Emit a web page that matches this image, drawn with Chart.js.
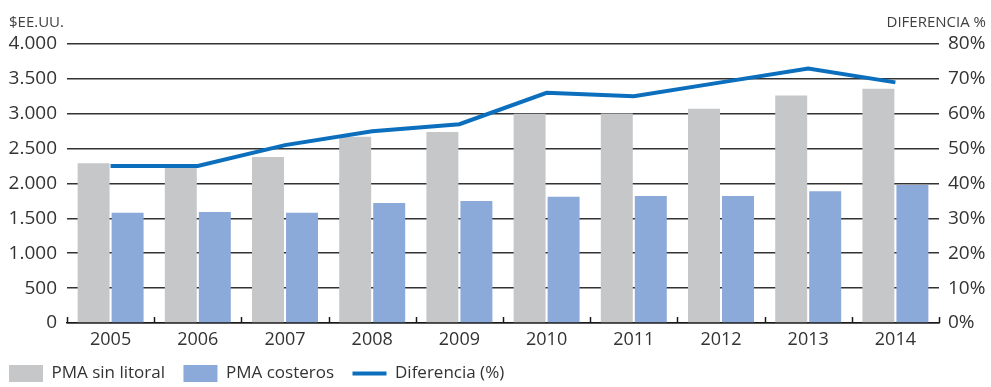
<!DOCTYPE html>
<html><head><meta charset="utf-8">
<script src="https://cdn.jsdelivr.net/npm/chart.js@4/dist/chart.umd.min.js"></script>
<style>html,body{margin:0;padding:0;background:#fff}#wrap{width:991px;height:387px;position:relative}</style>
</head><body><div id="wrap"><canvas id="c"></canvas></div>
<script>
const years = ['2005','2006','2007','2008','2009','2010','2011','2012','2013','2014'];
const pmaSinLitoral = [2290,2280,2380,2670,2740,3000,3005,3070,3260,3360];
const pmaCosteros = [1580,1590,1580,1720,1750,1810,1820,1820,1890,1980];
const diferencia = [45,45,51,55,57,66,65,69,73,69];
const leftAxisTitle = '$EE.UU.';
const rightAxisTitle = 'DIFERENCIA %';
const seriesNames = ['PMA sin litoral','PMA costeros','Diferencia (%)'];

const GRAY = '#c6c7c9', BLUE = '#8ba9d9', LINE = '#0b6fbd', TXT = '#333333';
const FONT = "'Open Sans', 'Noto Sans', sans-serif";
const LEG_PAD = 18.5, LEG_BOX_H = 18, LEG_TEXT_CENTER = 374;

function fmtThousands(v){ return String(v).replace(/\B(?=(\d{3})+(?!\d))/g, '.'); }

const axisExtras = {
  id: 'axisExtras',
  afterLayout(chart){
    const lg = chart.legend;
    if (lg){
      lg.left -= 9.5; lg.right -= 9.5;
      lg.top = LEG_TEXT_CENTER - LEG_PAD - LEG_BOX_H/2;
      lg.bottom = chart.height;
      lg.height = lg.bottom - lg.top;
    }
  },
  afterDatasetsDraw(chart){
    const ctx = chart.ctx, xs = chart.scales.x;
    const n = years.length, w = xs.width / n;
    ctx.save();
    ctx.strokeStyle = '#1a1a1a'; ctx.lineWidth = 1.5;
    for (let i = 0; i <= n; i++){
      const x = Math.round(xs.left + i*w) + 0.5;
      ctx.beginPath(); ctx.moveTo(x, xs.top); ctx.lineTo(x, xs.top - 6); ctx.stroke();
    }
    ctx.restore();
  },
  afterDraw(chart){
    const ctx = chart.ctx;
    ctx.save();
    ctx.fillStyle = '#404040';
    ctx.font = "15px " + FONT;
    ctx.textBaseline = 'alphabetic';
    ctx.textAlign = 'left';
    ctx.fillText(leftAxisTitle, 9, 27);
    ctx.textAlign = 'right';
    ctx.fillText(rightAxisTitle, 986, 27);
    ctx.restore();
  }
};

new Chart(document.getElementById('c'), {
  data: {
    labels: years,
    datasets: [
      { type:'bar', label: seriesNames[0], data: pmaSinLitoral, backgroundColor: GRAY, yAxisID:'y', order:2,
        categoryPercentage:0.78, barPercentage:0.94 },
      { type:'bar', label: seriesNames[1], data: pmaCosteros, backgroundColor: BLUE, yAxisID:'y', order:3,
        categoryPercentage:0.78, barPercentage:0.94 },
      { type:'line', label: seriesNames[2], data: diferencia, borderColor: LINE, backgroundColor: LINE, borderWidth:4,
        pointRadius:0, tension:0, yAxisID:'y1', order:1 }
    ]
  },
  options: {
    responsive:true, maintainAspectRatio:false, animation:false, devicePixelRatio:1,
    layout:{ padding:{ top:44, left:0, right:0, bottom:0 } },
    plugins:{
      tooltip:{enabled:false},
      legend:{
        position:'bottom', align:'start', maxHeight:30,
        labels:{
          font:{size:17, family:FONT}, color:TXT,
          usePointStyle:true, pointStyleWidth:34, boxHeight:LEG_BOX_H, padding:LEG_PAD,
          generateLabels(chart){
            return chart.data.datasets.map((d,i)=>({
              text:d.label, datasetIndex:i,
              fillStyle: d.type==='line' ? LINE : d.backgroundColor,
              strokeStyle: d.type==='line' ? LINE : d.backgroundColor,
              lineWidth: d.type==='line' ? 4 : 0,
              pointStyle: d.type==='line' ? 'line' : 'rect',
              fontColor: TXT, hidden:false
            }));
          }
        }
      }
    },
    scales:{
      x:{
        offset:true,
        grid:{display:false, drawTicks:false},
        border:{display:true, color:'#1a1a1a', width:1.5},
        ticks:{font:{size:18, family:FONT}, color:TXT, padding:6, maxRotation:0},
        afterFit(s){ s.height = 34; }
      },
      y:{
        position:'left', min:0, max:4000,
        grid:{color:'#333333', lineWidth:1.6, drawTicks:false},
        border:{display:false},
        ticks:{stepSize:500, font:{size:19, family:FONT}, color:TXT, padding:10, callback:v=>fmtThousands(v)},
        afterFit(s){ s.width = 67; }
      },
      y1:{
        position:'right', min:0, max:80,
        grid:{display:false, drawTicks:false},
        border:{display:false},
        ticks:{stepSize:10, font:{size:19, family:FONT}, color:TXT, padding:9, callback:v=>v+'%'},
        afterFit(s){ s.width = 52; }
      }
    }
  },
  plugins:[axisExtras]
});
</script></body></html>
